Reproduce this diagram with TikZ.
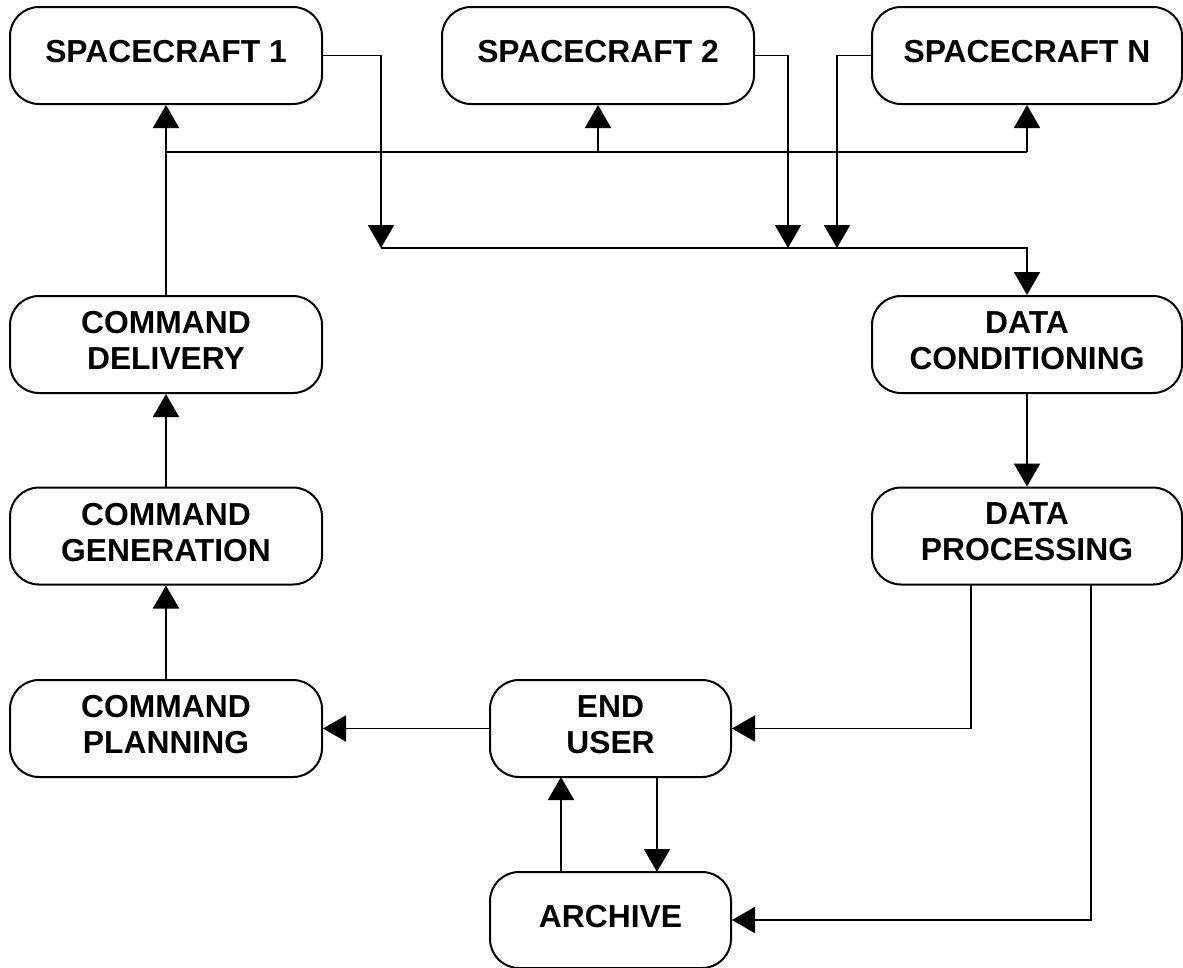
\documentclass[tikz,border=0pt]{standalone}
\usepackage{fontspec}
\setmainfont{Liberation Sans}
\usetikzlibrary{arrows.meta}
\begin{document}
\begin{tikzpicture}[x=1pt,y=-1pt,
  blk/.style={draw, line width=2pt, rounded corners=29pt, minimum width=312pt,
    minimum height=97pt, inner sep=0pt, align=center, text depth=8pt,
    font=\fontsize{31.8}{36}\selectfont\bfseries},
  wire/.style={line width=1.9pt},
  arr/.style={wire, -{Triangle[length=23pt,width=26pt]}}]
\useasboundingbox (0,0) rectangle (1183,967);
% boxes
\node[blk] (sc1) at (166,55.5) {SPACECRAFT 1};
\node[blk] (sc2) at (598,55.5) {SPACECRAFT 2};
\node[blk, minimum width=310pt] (scn) at (1027,55.5) {SPACECRAFT N};
\node[blk] (cd) at (166,344.5) {COMMAND\\DELIVERY};
\node[blk] (cg) at (166,536) {COMMAND\\GENERATION};
\node[blk] (cp) at (166,728.5) {COMMAND\\PLANNING};
\node[blk, minimum width=310pt] (dc) at (1027,344.5) {DATA\\CONDITIONING};
\node[blk, minimum width=310pt] (dp) at (1027,536) {DATA\\PROCESSING};
\node[blk, minimum width=241pt] (eu) at (610.5,728.5) {END\\USER};
\node[blk, minimum width=241pt, minimum height=96pt] (ar) at (610.5,920) {ARCHIVE};
% junction coordinates
\coordinate (d1) at (381,248);
\coordinate (d2) at (788,248);
\coordinate (d3) at (837,248);
\coordinate (busR) at (1027,248);
\coordinate (u1) at (166,152);
\coordinate (u2) at (598,152);
\coordinate (u3) at (1027,152);
\coordinate (p1) at (971,584);
\coordinate (p1c) at (971,728.5);
\coordinate (p2) at (1091,584);
\coordinate (p2c) at (1091,920);
\coordinate (a1) at (561,872);
\coordinate (a1e) at (561,777);
\coordinate (e1) at (657,777);
\coordinate (e1a) at (657,872);
% telemetry
\draw[arr] (sc1.east) -| (d1);
\draw[arr] (sc2.east) -| (d2);
\draw[arr] (scn.west) -| (d3);
\draw[arr] (d1) -- (busR) -- (dc.north);
% commands
\draw[arr] (cd.north) -- (sc1.south);
\draw[wire] (u1) -- (u3);
\draw[arr] (u2) -- (sc2.south);
\draw[arr] (u3) -- (scn.south);
\draw[arr] (cg.north) -- (cd.south);
\draw[arr] (cp.north) -- (cg.south);
\draw[arr] (eu.west) -- (cp.east);
\draw[arr] (dc.south) -- (dp.north);
\draw[arr] (p1) -- (p1c) -- (eu.east);
\draw[arr] (p2) -- (p2c) -- (ar.east);
\draw[arr] (a1) -- (a1e);
\draw[arr] (e1) -- (e1a);
\end{tikzpicture}
\end{document}
